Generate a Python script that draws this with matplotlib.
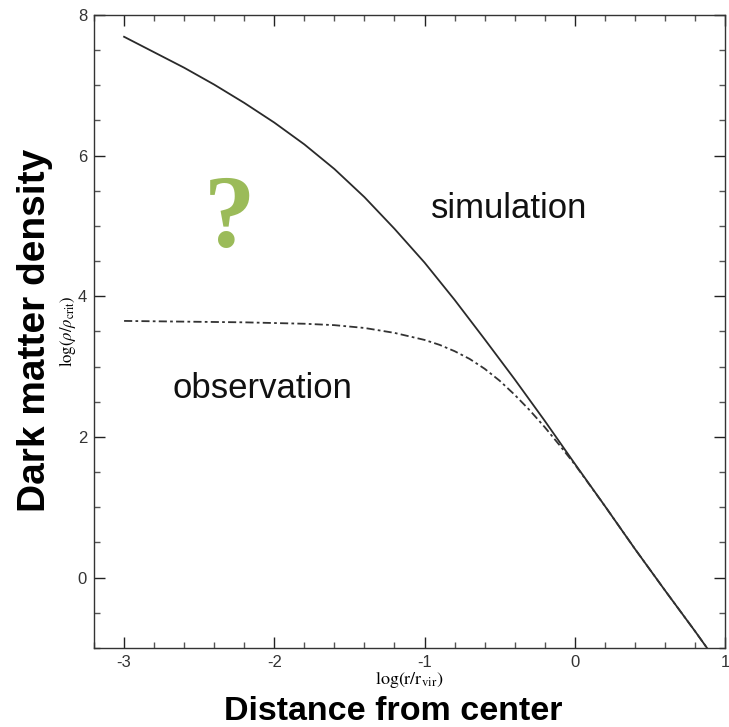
import matplotlib
matplotlib.use('Agg')
import matplotlib.pyplot as plt
from matplotlib.ticker import MultipleLocator
from matplotlib import font_manager

plt.rcParams['mathtext.fontset'] = 'stix'
plt.rcParams['axes.unicode_minus'] = False

# simulation (solid) profile, log(r/r_vir) vs log(rho/rho_crit)
sim_x = [-3.0, -2.8, -2.6, -2.4, -2.2, -2.0, -1.8, -1.6, -1.4, -1.2, -1.0,
         -0.8, -0.6, -0.4, -0.2, 0.0, 0.2, 0.4, 0.6, 0.8, 0.887]
sim_y = [7.69, 7.47, 7.25, 7.01, 6.75, 6.47, 6.16, 5.81, 5.41, 4.96, 4.48,
         3.95, 3.39, 2.82, 2.23, 1.62, 1.02, 0.41, -0.18, -0.76, -1.02]

# observation (dashed) profile with a flat core
obs_x = [-3.0, -2.6, -2.2, -2.0, -1.8, -1.6, -1.4, -1.2, -1.0, -0.9, -0.8,
         -0.7, -0.6, -0.5, -0.4, -0.3, -0.2, -0.1, 0.0, 0.2, 0.4, 0.6, 0.8, 0.887]
obs_y = [3.65, 3.64, 3.63, 3.62, 3.61, 3.59, 3.55, 3.48, 3.38, 3.31, 3.22,
         3.11, 2.97, 2.80, 2.60, 2.38, 2.14, 1.88, 1.61, 1.02, 0.41, -0.18, -0.76, -1.02]

x_ticks = [-3, -2, -1, 0, 1]
y_ticks = [0, 2, 4, 6, 8]

# narrow font if available for the big labels
try:
    font_manager.findfont('Liberation Sans Narrow', fallback_to_default=False)
    big_family = 'Liberation Sans Narrow'
    ysize, xsize = 34, 30
except Exception:
    big_family = 'Liberation Sans'
    ysize, xsize = 28, 24.5

fig = plt.figure(figsize=(7.29, 7.27), dpi=100)
ax = fig.add_axes([0.129, 0.1087, 0.8655, 0.8707])

ax.plot(sim_x, sim_y, color='#2a2a2a', lw=1.3)
ax.plot(obs_x, obs_y, color='#333333', lw=1.3, linestyle=(0, (4.5, 1.8, 1.5, 1.8)))

ax.set_xlim(-3.2, 1.0)
ax.set_ylim(-1, 8)
ax.set_xticks(x_ticks)
ax.set_yticks(y_ticks)
ax.xaxis.set_minor_locator(MultipleLocator(0.2))
ax.yaxis.set_minor_locator(MultipleLocator(0.5))
ax.tick_params(which='both', direction='in', top=True, right=True,
               colors='#222222', labelcolor='#333333')
ax.tick_params(which='major', length=8, width=1.0, labelsize=12, pad=5)
ax.tick_params(which='minor', length=4.5, width=1.0, color='#555555')
for lab in ax.get_xticklabels() + ax.get_yticklabels():
    lab.set_family('Liberation Sans')
for s in ax.spines.values():
    s.set_linewidth(1.0)
    s.set_color('#333333')

ax.set_xlabel(r'$\mathrm{log(r/r_{vir})}$', fontsize=13, labelpad=0)
ax.set_ylabel(r'$\mathrm{log}(\rho/\rho_{\mathrm{crit}})$', fontsize=12, labelpad=0)

ax.text(-0.954, 5.25, 'simulation', fontsize=25, family='Liberation Sans',
        va='center', ha='left', color='#111111')
ax.text(-2.68, 2.69, 'observation', fontsize=25, family='Liberation Sans',
        va='center', ha='left', color='#111111')
ax.text(-2.30, 5.05, '?', fontsize=74, family='Liberation Serif',
        fontweight='bold', color='#9bbb59', ha='center', va='center')

fig.text(0.048, 0.545, 'Dark matter density', rotation=90, fontsize=ysize,
         family=big_family, fontweight='bold', ha='center', va='center')
fig.text(0.54, 0.021, 'Distance from center', fontsize=xsize,
         family=big_family, fontweight='bold', ha='center', va='center')

fig.savefig('out.png', dpi=100, facecolor='white')
